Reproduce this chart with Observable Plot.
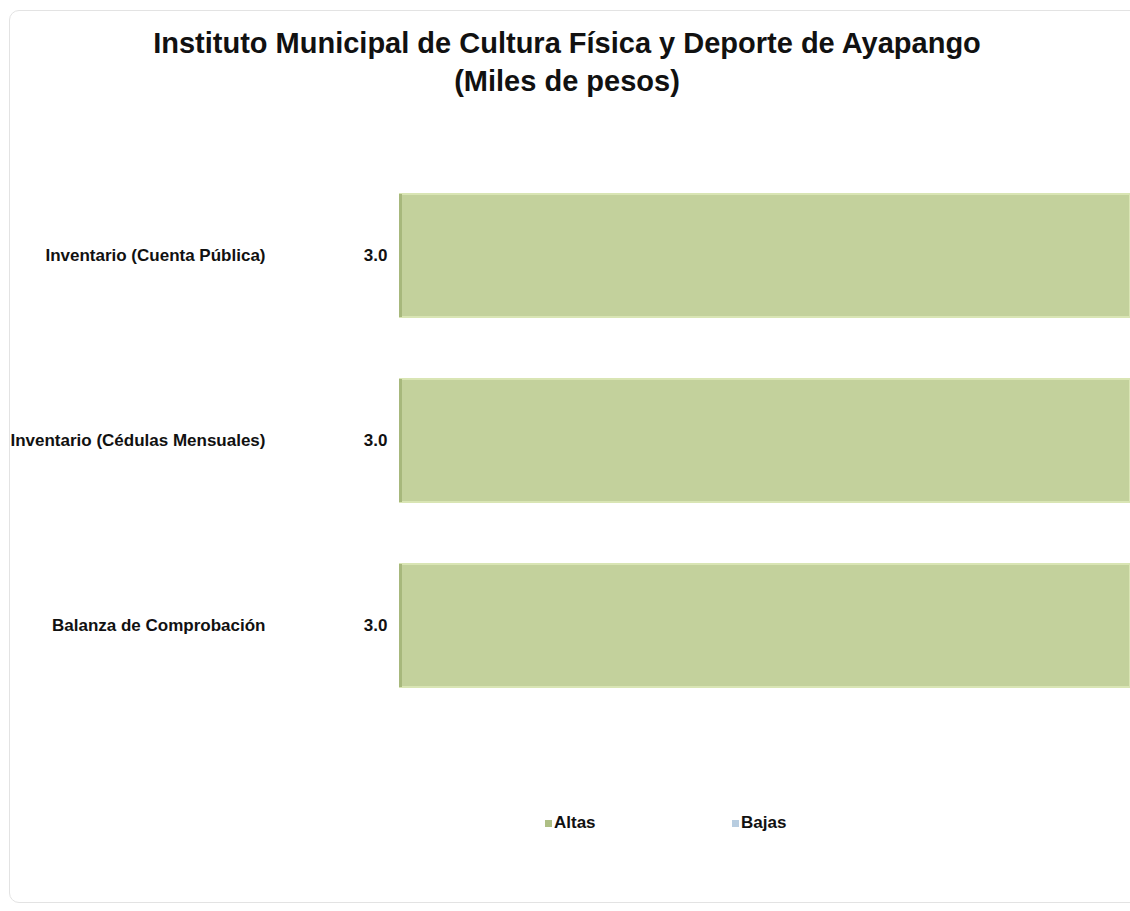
<!DOCTYPE html>
<html>
<head>
<meta charset="utf-8">
<script src="https://cdn.jsdelivr.net/npm/d3@7"></script>
<script src="https://cdn.jsdelivr.net/npm/@observablehq/plot@0.6"></script>
<style>
  html, body { margin: 0; padding: 0; background: #ffffff; overflow: hidden; }
  body { font-family: "Liberation Sans", Arial, sans-serif; width: 1130px; height: 911px; position: relative; }
  #frame { position: absolute; left: 9px; top: 10px; width: 1140px; height: 893px; border: 1px solid #e3e3e3; border-radius: 10px; box-sizing: border-box; }
  #title { position: absolute; left: 8px; width: 1118px; top: 24px; text-align: center; font-weight: bold; font-size: 29px; line-height: 38px; color: #111; }
  #chart { position: absolute; left: 0; top: 120px; }
  #legend { position: absolute; left: 0; top: 813px; width: 1130px; height: 20px; font-weight: bold; font-size: 17px; color: #111; }
  .item { position: absolute; top: 0; line-height: 20px; display: flex; align-items: center; }
  .sw { width: 7px; height: 7px; margin-right: 2px; display: inline-block; }
</style>
</head>
<body>
<div id="frame"></div>
<div id="title">Instituto Municipal de Cultura Física y Deporte de Ayapango<br>(Miles de pesos)</div>
<div id="chart"></div>
<div id="legend"></div>
<script>
const categories = ["Inventario (Cuenta Pública)", "Inventario (Cédulas Mensuales)", "Balanza de Comprobación"];
const altas = [3.0, 3.0, 3.0];
const bajas = [0, 0, 0];
const seriesNames = ["Altas", "Bajas"];
const seriesColors = ["#c3d19c", "#b8cde0"];
const swatchColors = ["#aebf85", "#b8cde0"];

const data = categories.map((c, i) => ({category: c, altas: altas[i], bajas: bajas[i]}));

const chart = Plot.plot({
  width: 1130,
  height: 660,
  marginLeft: 400,
  marginRight: 0,
  marginTop: 12.5,
  marginBottom: 30.5,
  style: {fontFamily: "Liberation Sans, Arial, sans-serif", color: "#111", background: "transparent"},
  x: {domain: [0, 3], axis: null},
  y: {domain: categories, padding: 0.335, label: null},
  marks: [
    Plot.axisY({tickSize: 0, tickPadding: 135, fontSize: 17, fontWeight: "bold", label: null}),
    Plot.barX(data, {x: "altas", y: "category", fill: seriesColors[0], stroke: "#d9e5b4", strokeWidth: 2}),
    Plot.barX(data, {x: "bajas", y: "category", fill: seriesColors[1]}),
    Plot.tickX(data, {x: 0, y: "category", stroke: "#a7b87c", strokeWidth: 3}),
    Plot.text(data, {x: 0, y: "category", text: d => d.altas.toFixed(1), dx: -13, textAnchor: "end", fontSize: 17, fontWeight: "bold", fill: "#111"})
  ]
});
document.getElementById("chart").appendChild(chart);

const legend = document.getElementById("legend");
const xs = [545, 732];
seriesNames.forEach((n, i) => {
  const it = document.createElement("div");
  it.className = "item";
  it.style.left = xs[i] + "px";
  const sw = document.createElement("span");
  sw.className = "sw";
  sw.style.background = swatchColors[i];
  it.appendChild(sw);
  it.appendChild(document.createTextNode(n));
  legend.appendChild(it);
});
</script>
</body>
</html>
